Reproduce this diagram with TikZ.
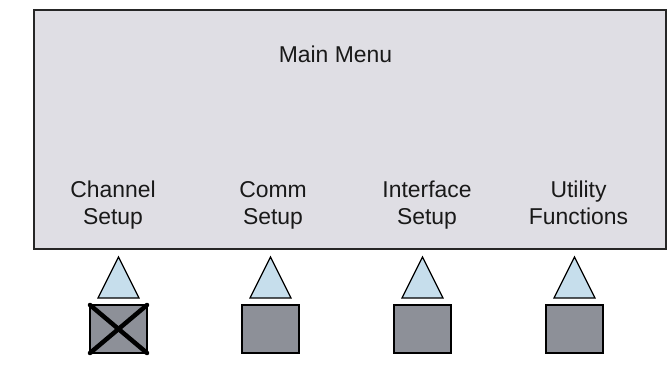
\documentclass[tikz,border=0pt]{standalone}
\usepackage{fontspec}
\setmainfont{Liberation Sans}
\usepackage{tikz}

\definecolor{panel}{HTML}{DFDEE4}
\definecolor{softkey}{HTML}{8D9098}
\definecolor{arrowup}{HTML}{C6DEEC}

\tikzset{
  label/.style={align=center, inner sep=0pt, text=black!90,
    font=\fontsize{23}{27.5}\selectfont},
  keybox/.style={draw=black, line width=1.3pt, fill=softkey},
  pointer/.style={draw=black, line width=1.2pt, fill=arrowup, line join=miter},
}

\begin{document}
\begin{tikzpicture}[x=1bp, y=-1bp]
    \useasboundingbox (0,0) rectangle (668,367);
    \begin{scope}
      % display panel
      \draw[fill=panel, draw=black!85, line width=2pt] (34,10) rectangle (666,249);
      \node[label, anchor=base] (title) at (335.5,62) {Main Menu};
      % base of a two-line label sits on its second line
      \node[label, anchor=base] (chan) at (113,224.5) {Channel\\Setup};
      \node[label, anchor=base] (comm) at (273,224.5) {Comm\\Setup};
      \node[label, anchor=base] (intf) at (427,224.5) {Interface\\Setup};
      \node[label, anchor=base] (util) at (578.5,224.5) {Utility\\Functions};
      % soft keys with their pointers
      \foreach \x in {118.5,270.5,422.5,574.5} {
        \draw[pointer] (\x,257) -- (\x+20.5,298) -- (\x-20.5,298) -- cycle;
        \draw[keybox] (\x-28.5,305) rectangle (\x+28.5,353);
      }
      \draw[line width=4.5pt, line cap=round] (90,305) -- (147,353);
      \draw[line width=4.5pt, line cap=round] (90,353) -- (147,305);
    \end{scope}
\end{tikzpicture}
\end{document}
